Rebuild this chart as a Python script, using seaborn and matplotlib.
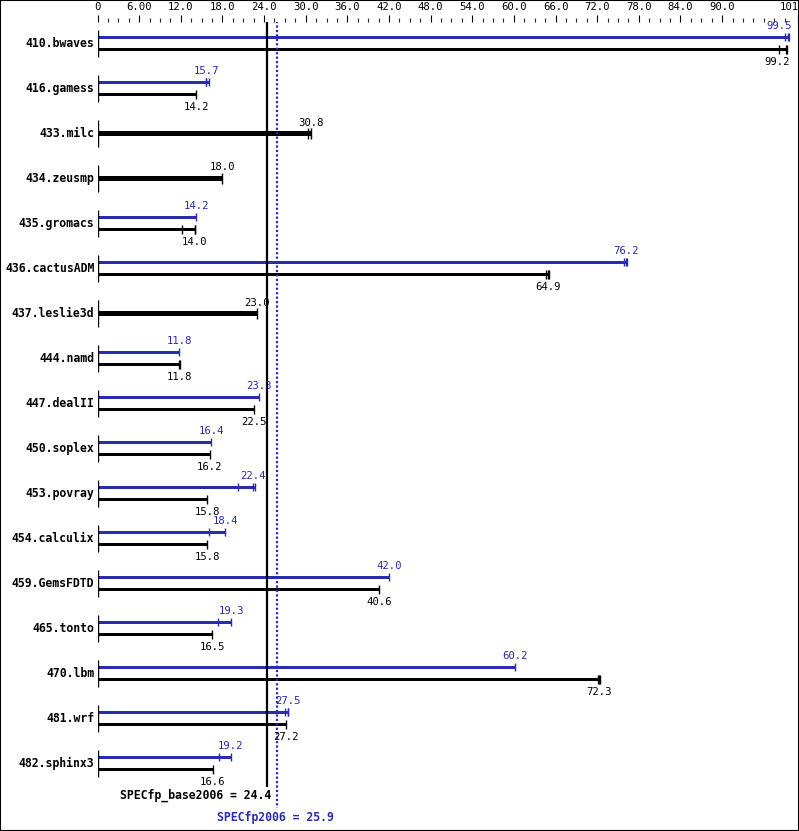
import numpy as np
import pandas as pd
import seaborn as sns
import matplotlib.pyplot as plt
from matplotlib.patches import Rectangle
from matplotlib.ticker import FixedLocator


benchmarks = ["410.bwaves", "416.gamess", "433.milc", "434.zeusmp", "435.gromacs",
              "436.cactusADM", "437.leslie3d", "444.namd", "447.dealII", "450.soplex",
              "453.povray", "454.calculix", "459.GemsFDTD", "465.tonto", "470.lbm",
              "481.wrf", "482.sphinx3"]

# median scores (the printed numbers), None = no peak run
base_scores = [99.2, 14.2, 30.8, 18.0, 14.0, 64.9, 23.0, 11.8, 22.5, 16.2,
               15.8, 15.8, 40.6, 16.5, 72.3, 27.2, 16.6]
peak_scores = [99.5, 15.7, None, None, 14.2, 76.2, None, 11.8, 23.3, 16.4,
               22.4, 18.4, 42.0, 19.3, 60.2, 27.5, 19.2]

# single run results (the little ticks on each line)
base_runs = [[98.2, 99.2, 99.3], [14.2], [30.4, 30.8], [18.0], [12.2, 14.0, 14.1],
             [64.6, 64.9, 65.0], [23.0], [11.8, 11.9], [22.5], [16.2],
             [15.8], [15.8], [40.6], [16.5], [72.1, 72.3, 72.4], [27.2], [16.6]]
peak_runs = [[99.1, 99.5, 99.7], [15.6, 15.7, 16.0], [], [], [14.2],
             [75.9, 76.2, 76.3], [], [11.8], [23.3], [16.4],
             [20.3, 22.4, 22.7], [16.1, 18.4], [42.0], [17.4, 19.3], [60.2],
             [27.0, 27.5, 27.5], [17.5, 19.2]]

base_mean = 24.4
peak_mean = 25.9

tick_pos = [0, 6, 12, 18, 24, 30, 36, 42, 48, 54, 60, 66, 72, 78, 84, 90, 101]
tick_lab = ["0", "6.00", "12.0", "18.0", "24.0", "30.0", "36.0", "42.0", "48.0",
            "54.0", "60.0", "66.0", "72.0", "78.0", "84.0", "90.0", "101"]

BLUE = "#2b2bad"
PX = 45.0  # pixels per row

sns.set_theme(style="white")
plt.rcParams['font.family'] = ['DejaVu Sans Mono', 'DejaVu Sans']

fig = plt.figure(figsize=(7.99, 8.31), dpi=100)
ax = fig.add_axes([97.5 / 799, 0, 1 - 97.5 / 799, (831 - 22) / 831])

rows = np.arange(len(benchmarks))
has_peak = np.array([p is not None for p in peak_scores])

# long table for the paired (peak / base) lines
recs = []
for i in rows:
    if has_peak[i]:
        recs.append({"row": i, "kind": "peak", "end": max(peak_runs[i])})
        recs.append({"row": i, "kind": "base", "end": max(base_runs[i])})
pair_df = pd.DataFrame(recs)
single_df = pd.DataFrame({"row": rows[~has_peak],
                          "end": [max(base_runs[i]) for i in rows[~has_peak]]})

off = 6.25 / PX
sns.barplot(data=pair_df, x="end", y="row", hue="kind", hue_order=["peak", "base"],
            palette={"peak": BLUE, "base": "black"}, orient="y", native_scale=True,
            width=4 * off, gap=1 - (2.6 / PX) / (2 * off), saturation=1,
            errorbar=None, linewidth=0, legend=False, ax=ax)
sns.barplot(data=single_df, x="end", y="row", color="black", orient="y",
            native_scale=True, width=4.5 / PX, saturation=1, errorbar=None,
            linewidth=0, ax=ax)

# run ticks and value labels
for i in rows:
    if has_peak[i]:
        lines = [(peak_runs[i], peak_scores[i], i - off, BLUE, 4.0, True),
                 (base_runs[i], base_scores[i], i + off, "black", 4.5, False)]
    else:
        lines = [(base_runs[i], base_scores[i], i, "black", 5.5, True)]
    for runs, val, y, col, h, above in lines:
        ax.vlines(runs, y - h / PX, y + h / PX, color=col, lw=1.0)
        end = max(runs)
        if end > 95:
            xt, ha = end + 0.4, "right"
        else:
            xt, ha = val, "center"
        yt = y - 8 / PX if above else y + 15 / PX
        ax.text(xt, yt, f"{val:.1f}", color=col, fontsize=7.7, ha=ha, va="baseline")
    ax.text(-0.45, i, benchmarks[i], fontsize=8.3, fontweight="bold",
            ha="right", va="center", color="black")

# left axis segments per row
ax.vlines(np.zeros(len(rows)), rows - 0.31, rows + 0.31, color="black", lw=1.0)

# overall score lines
ax.vlines(base_mean, -0.5, (787 - 43.5) / PX, color="black", lw=1.6)
ax.vlines(peak_mean, -0.5, (808 - 43.5) / PX, color=BLUE, lw=1.6,
          linestyles=[(0, (1, 1))])
ax.text(base_mean + 0.6, (795 - 43.5) / PX, f"SPECfp_base2006 = {base_mean}",
        fontsize=8.3, fontweight="bold", ha="right", va="center", color="black")
ax.text(peak_mean - 0.2, (817 - 43.5) / PX, f"SPECfp2006 = {peak_mean}",
        fontsize=8.3, fontweight="bold", ha="center", va="center", color=BLUE)

ax.set_xlim(0, 701.5 / 6.94)
ax.set_ylim((831 - 43.5) / PX, (22 - 43.5) / PX)
ax.xaxis.tick_top()
ax.xaxis.set_major_locator(FixedLocator(tick_pos))
ax.set_xticklabels(tick_lab)
ax.get_xticklabels()[-1].set_horizontalalignment("right")
ax.xaxis.set_minor_locator(FixedLocator(np.arange(0, 100, 1.5)))
ax.tick_params(axis="x", which="major", direction="out", length=5, width=0.8,
               labelsize=7.7, pad=2.5, colors="black", top=True, bottom=False)
ax.tick_params(axis="x", which="minor", direction="out", length=2.8, width=0.8,
               top=True, bottom=False)
ax.set_yticks([])
ax.set_xlabel("")
ax.set_ylabel("")
ax.grid(False)
for s in ax.spines.values():
    s.set_visible(False)

fig.patches.append(Rectangle((0, 0), 1, 1, transform=fig.transFigure, fill=False,
                             lw=1.5, edgecolor="black"))

fig.savefig("out.png", dpi=100)
